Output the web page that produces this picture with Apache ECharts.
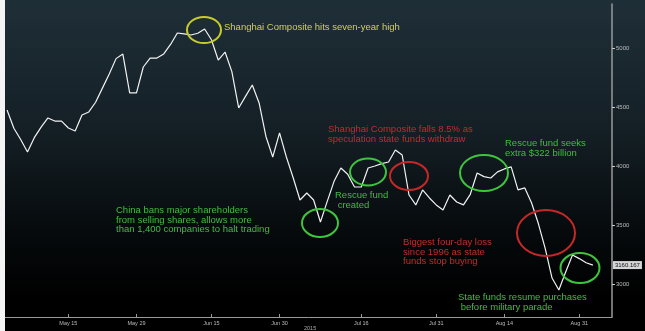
<!DOCTYPE html>
<html>
<head>
<meta charset="utf-8">
<script src="https://cdn.jsdelivr.net/npm/echarts@6/dist/echarts.min.js"></script>
<style>
html,body{margin:0;padding:0;background:#000;}
#c{width:645px;height:331px;}
</style>
</head>
<body>
<div id="c"></div>
<script>
// Trading days shown (2015)
const dates = ['May 4','May 5','May 6','May 7','May 8','May 11','May 12','May 13','May 14','May 15',
'May 18','May 19','May 20','May 21','May 22','May 25','May 26','May 27','May 28','May 29',
'Jun 1','Jun 2','Jun 3','Jun 4','Jun 5','Jun 8','Jun 9','Jun 10','Jun 11','Jun 12',
'Jun 15','Jun 16','Jun 17','Jun 18','Jun 19','Jun 23','Jun 24','Jun 25','Jun 26','Jun 29',
'Jun 30','Jul 1','Jul 2','Jul 3','Jul 6','Jul 7','Jul 8','Jul 9','Jul 10','Jul 13',
'Jul 14','Jul 15','Jul 16','Jul 17','Jul 20','Jul 21','Jul 22','Jul 23','Jul 24','Jul 27',
'Jul 28','Jul 29','Jul 30','Jul 31','Aug 3','Aug 4','Aug 5','Aug 6','Aug 7','Aug 10',
'Aug 11','Aug 12','Aug 13','Aug 14','Aug 17','Aug 18','Aug 19','Aug 20','Aug 21','Aug 24',
'Aug 25','Aug 26','Aug 27','Aug 28','Aug 31','Sep 1','Sep 2'];

// Shanghai Composite closes
const closes = [4475,4320,4225,4119,4240,4330,4407,4381,4380,4322,
4297,4432,4458,4540,4660,4780,4910,4949,4619,4619,
4839,4915,4915,4950,5030,5127,5120,5110,5125,5161,
5070,4898,4966,4800,4492,4590,4686,4534,4250,4076,
4280,4076,3900,3712,3771,3712,3525,3700,3870,3983,
3930,3822,3822,3983,4000,4020,4034,4136,4093,3754,
3670,3797,3729,3670,3627,3754,3695,3670,3760,3941,
3910,3898,3950,3975,3992,3797,3814,3686,3510,3300,
3050,2949,3102,3246,3215,3180,3160.167];

const xTickLabels = ['May 15','May 29','Jun 15','Jun 30','Jul 16','Jul 31','Aug 14','Aug 31'];
const yTickValues = [3000,3500,4000,4500,5000];
const yearLabel = '2015';

const notes = [
  {text:'Shanghai Composite hits seven-year high', color:'#cfcf5a', x:224, y:23},
  {text:'China bans major shareholders\nfrom selling shares, allows more\nthan 1,400 companies to halt trading', color:'#3fbf3f', x:116, y:206},
  {text:'Rescue fund\n created', color:'#3fbf3f', x:335, y:191},
  {text:'Shanghai Composite falls 8.5% as\nspeculation state funds withdraw', color:'#c92a2a', x:328, y:125},
  {text:'Rescue fund seeks\nextra $322 billion', color:'#3fbf3f', x:505, y:139},
  {text:'Biggest four-day loss\nsince 1996 as state\nfunds stop buying', color:'#c92a2a', x:403, y:238},
  {text:'State funds resume purchases\n before military parade', color:'#3fbf3f', x:458, y:293}
];
const rings = [
  {cx:204, cy:30, rx:17, ry:13, color:'#c8cc2a'},
  {cx:320, cy:223, rx:18, ry:14, color:'#3fc43f'},
  {cx:368, cy:172, rx:18, ry:13.5, color:'#3fc43f'},
  {cx:409, cy:176, rx:19, ry:14, color:'#c62828'},
  {cx:484, cy:173, rx:24, ry:18, color:'#3fc43f'},
  {cx:546, cy:233, rx:29, ry:23, color:'#c62828'},
  {cx:580, cy:268, rx:19.5, ry:15, color:'#3fc43f'}
];

const seriesData = closes.map((v,i)=>[i,v]);
const tickIdx = xTickLabels.map(l=>dates.indexOf(l));

const chart = echarts.init(document.getElementById('c'), null, {renderer:'canvas'});
const graphics = [];
graphics.push({type:'rect', left:0, top:0, shape:{width:5,height:331}, style:{fill:'#f4f4f4'}, z:10});
rings.forEach(r=>graphics.push({type:'ellipse', shape:{cx:r.cx,cy:r.cy,rx:r.rx,ry:r.ry}, style:{fill:'none', stroke:r.color, lineWidth:2}, z:5}));
notes.forEach(n=>graphics.push({type:'text', x:n.x, y:n.y, style:{text:n.text, fill:n.color, font:'9.5px "Liberation Sans", Arial, sans-serif', lineHeight:9.5}, z:5}));
graphics.push({type:'text', x:304, y:325, style:{text:yearLabel, fill:'#aaa', font:'5.5px "Liberation Sans", Arial, sans-serif'}});

chart.setOption({
  animation:false,
  backgroundColor:{type:'linear', x:0, y:0, x2:0, y2:1, colorStops:[
    {offset:0, color:'#1f2f38'},{offset:0.4, color:'#141f25'},{offset:0.7, color:'#060a0c'},{offset:0.9, color:'#000'},{offset:1, color:'#000'}]},
  grid:{left:5, right:33, top:4, bottom:14, containLabel:false},
  xAxis:{type:'value', min:-0.3, max:88.8,
    axisLine:{show:true, onZero:false, lineStyle:{color:'#9a9a9a', width:1}},
    axisTick:{show:true, customValues:tickIdx, length:3, inside:true, lineStyle:{color:'#9a9a9a'}},
    axisLabel:{customValues:tickIdx, formatter:v=>dates[Math.round(v)]||'', color:'#bbb', fontSize:5.5, margin:3, fontFamily:'Liberation Sans'},
    splitLine:{show:false}},
  yAxis:{type:'value', position:'right', min:2720, max:5373,
    axisLine:{show:true, onZero:false, lineStyle:{color:'#9a9a9a', width:1.5}},
    axisTick:{show:true, customValues:yTickValues, length:3, lineStyle:{color:'#ccc'}},
    axisLabel:{customValues:yTickValues, formatter:v=>String(v), color:'#bbb', fontSize:6, margin:4, fontFamily:'Liberation Sans'},
    splitLine:{show:false}},
  series:[{type:'line', data:seriesData, symbol:'none', lineStyle:{color:'#f2f2f2', width:1.2},
    endLabel:{show:true, distance:20, formatter:p=>p.value[1].toFixed(3), backgroundColor:'#d6d6d6', color:'#111', fontSize:6, padding:[1,2], fontFamily:'Liberation Sans'}}],
  graphic:graphics
});
</script>
</body>
</html>
